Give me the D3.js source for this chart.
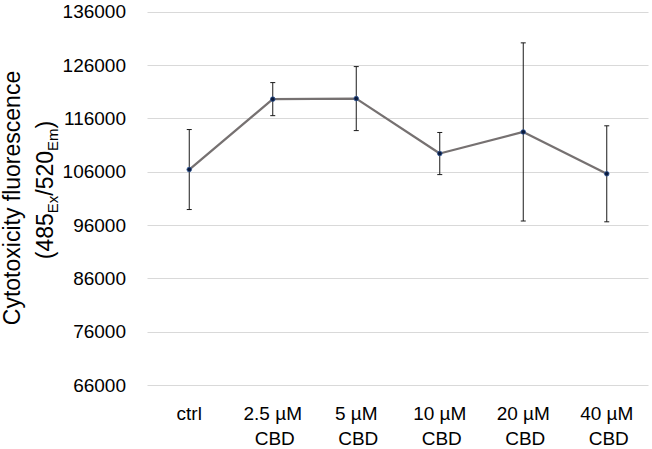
<!DOCTYPE html>
<html>
<head>
<meta charset="utf-8">
<script src="https://cdn.jsdelivr.net/npm/d3@7"></script>
<style>
  html, body { margin: 0; padding: 0; background: #fff; }
  svg { display: block; font-family: "Liberation Sans", Arial, sans-serif; }
</style>
</head>
<body>
<svg id="chart" width="652" height="449"></svg>
<script>
const categories = ["ctrl", "2.5 µM CBD", "5 µM CBD", "10 µM CBD", "20 µM CBD", "40 µM CBD"];
const catLine1 = ["ctrl", "2.5 µM", "5 µM", "10 µM", "20 µM", "40 µM"];
const catLine2 = ["", "CBD", "CBD", "CBD", "CBD", "CBD"];
const means = [106400, 119600, 119700, 109400, 113450, 105600];
const errors = [7500, 3100, 6000, 3950, 16700, 9000];
const yTicks = [66000, 76000, 86000, 96000, 106000, 116000, 126000, 136000];

const svg = d3.select("#chart");
const x = d3.scaleBand().domain(categories).range([147.5, 648.5]).padding(0);
const y = d3.scaleLinear().domain([66000, 136000]).range([385, 11.67]);
const cx = c => x(c) + x.bandwidth() / 2;

// gridlines
svg.append("g").selectAll("line").data(yTicks).join("line")
  .attr("x1", 147.5).attr("x2", 648.5)
  .attr("y1", d => Math.round(y(d)) + 0.5).attr("y2", d => Math.round(y(d)) + 0.5)
  .attr("stroke", "#d9d9d9").attr("stroke-width", 1);

// y tick labels
svg.append("g").selectAll("text").data(yTicks).join("text")
  .attr("x", 126).attr("y", d => y(d))
  .attr("dy", "0.35em")
  .attr("text-anchor", "end")
  .attr("font-size", 19)
  .attr("fill", "#000")
  .text(d => d);

// x labels
const xl = svg.append("g");
xl.selectAll("text.l1").data(categories).join("text").attr("class", "l1")
  .attr("x", d => cx(d)).attr("y", 420)
  .attr("text-anchor", "middle").attr("font-size", 19)
  .text((d, i) => catLine1[i]);
xl.selectAll("text.l2").data(categories).join("text").attr("class", "l2")
  .attr("x", d => cx(d) + 2).attr("y", 445)
  .attr("text-anchor", "middle").attr("font-size", 19)
  .text((d, i) => catLine2[i]);

// y axis title
const t1 = svg.append("text")
  .attr("transform", "translate(20,198) rotate(-90)")
  .attr("text-anchor", "middle").attr("font-size", 23)
  .text("Cytotoxicity fluorescence");
const t2 = svg.append("text")
  .attr("transform", "translate(53,190) rotate(-90)")
  .attr("text-anchor", "middle").attr("font-size", 23);
t2.append("tspan").text("(485");
t2.append("tspan").attr("font-size", 15).attr("dy", 5).text("Ex");
t2.append("tspan").attr("dy", -5).text("/520");
t2.append("tspan").attr("font-size", 15).attr("dy", 5).text("Em");
t2.append("tspan").attr("dy", -5).text(")");

// error bars
const eb = svg.append("g").attr("stroke", "#1a1a1a").attr("stroke-width", 1);
categories.forEach((c, i) => {
  const xc = cx(c);
  const top = y(means[i] + errors[i]);
  const bot = y(means[i] - errors[i]);
  eb.append("line").attr("x1", xc).attr("x2", xc).attr("y1", top).attr("y2", bot);
  eb.append("line").attr("x1", xc - 2.5).attr("x2", xc + 2.5).attr("y1", top).attr("y2", top);
  eb.append("line").attr("x1", xc - 2.5).attr("x2", xc + 2.5).attr("y1", bot).attr("y2", bot);
});

// line
const line = d3.line().x((d, i) => cx(categories[i])).y(d => y(d));
svg.append("path").datum(means)
  .attr("d", line)
  .attr("fill", "none")
  .attr("stroke", "#767171")
  .attr("stroke-width", 2.25)
  .attr("stroke-linejoin", "round");

// markers
svg.append("g").selectAll("circle").data(means).join("circle")
  .attr("cx", (d, i) => cx(categories[i])).attr("cy", d => y(d))
  .attr("r", 2.3)
  .attr("fill", "#0b1a3a").attr("stroke", "#2f5597").attr("stroke-width", 0.8);
</script>
</body>
</html>
